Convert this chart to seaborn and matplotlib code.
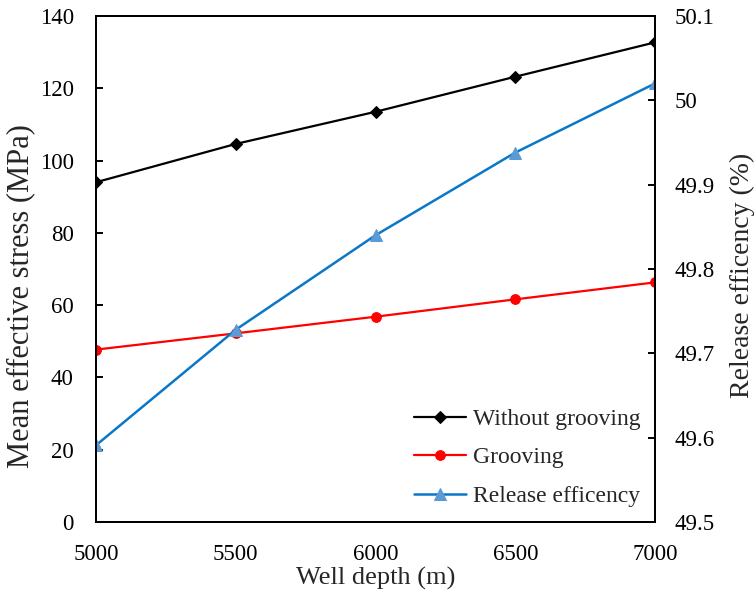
import matplotlib
matplotlib.use("Agg")
import matplotlib.pyplot as plt
from matplotlib.ticker import FuncFormatter
import seaborn as sns
import pandas as pd

depth = [5000, 5500, 6000, 6500, 7000]
without_grooving = [94.0, 104.6, 113.5, 123.2, 132.7]
grooving = [47.7, 52.2, 56.8, 61.6, 66.3]
release_eff = [49.591, 49.728, 49.840, 49.938, 50.020]

x_ticks = [5000, 5500, 6000, 6500, 7000]
left_ticks = [0, 20, 40, 60, 80, 100, 120, 140]
right_ticks = [49.5, 49.6, 49.7, 49.8, 49.9, 50.0, 50.1]

sns.set_theme(style="white")
plt.rcParams['font.family'] = ['Liberation Serif', 'DejaVu Serif']

df = pd.DataFrame({"depth": depth, "wg": without_grooving, "g": grooving, "re": release_eff})

fig = plt.figure(figsize=(7.56, 5.90), dpi=100)
ax = fig.add_axes([96/756, 1-522/590, (655-96)/756, (522-16)/590])
ax2 = ax.twinx()

sns.lineplot(data=df, x="depth", y="wg", ax=ax, color="black", marker="D",
             markersize=6, markeredgecolor="black", linewidth=1.6, label="Without grooving", legend=False)
sns.lineplot(data=df, x="depth", y="g", ax=ax, color="#FF0000", marker="o",
             markersize=7, markeredgecolor="#FF0000", linewidth=1.6, label="Grooving", legend=False)
sns.lineplot(data=df, x="depth", y="re", ax=ax2, color="#0A78C8", marker="^",
             markersize=9, markerfacecolor="#5B9BD5", markeredgecolor="#5B9BD5",
             linewidth=1.8, label="Release efficency", legend=False)

ax.set_xlim(5000, 7000)
ax.set_ylim(0, 140)
ax2.set_ylim(49.5, 50.1)
ax.set_xticks(x_ticks)
ax.set_yticks(left_ticks)
ax2.set_yticks(right_ticks)
ax2.yaxis.set_major_formatter(FuncFormatter(lambda v, p: f"{v:g}"))

for a in (ax, ax2):
    for s in a.spines.values():
        s.set_color("black")
        s.set_linewidth(1.4)
    a.grid(False)

ax.tick_params(axis="both", direction="in", length=5, width=1.4, colors="black", labelsize=16.5)
ax.tick_params(axis="x", pad=16)
ax.tick_params(axis="y", pad=16, right=False)
ax2.tick_params(axis="y", direction="in", length=5, width=1.4, colors="black", labelsize=16.5, pad=14)

ax.set_xlabel("Well depth (m)", fontsize=19, labelpad=1)
ax.set_ylabel("Mean effective stress (MPa)", fontsize=22)
ax2.set_ylabel("Release efficency (%)", fontsize=20)
ax.yaxis.set_label_coords((35-96)/559, 0.447)
ax2.yaxis.set_label_coords((730-96)/559, 0.488)

h1, l1 = ax.get_legend_handles_labels()
h2, l2 = ax2.get_legend_handles_labels()
leg = ax2.legend(h1 + h2, l1 + l2, loc="lower right", bbox_to_anchor=(1.012, -0.012),
                 frameon=False, fontsize=17, handlelength=2.2, handletextpad=0.3,
                 labelspacing=0.72)

fig.savefig("out.png", dpi=100)
